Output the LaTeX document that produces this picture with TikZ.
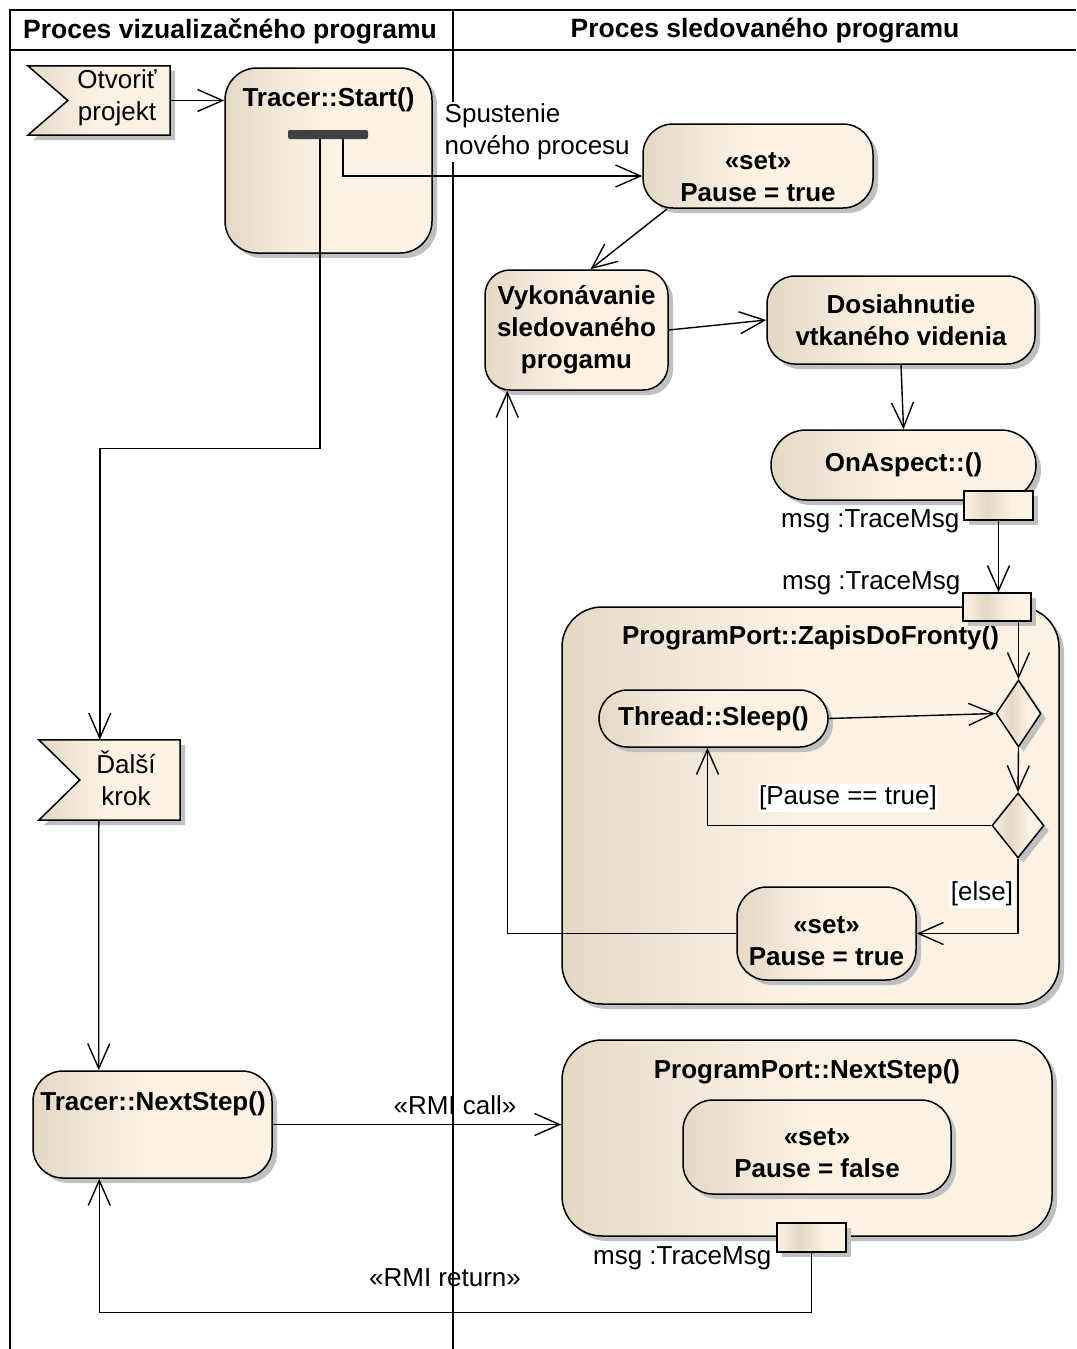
\documentclass[tikz,border=0pt]{standalone}
\usepackage{fontspec}
\setmainfont{Liberation Sans}
\usetikzlibrary{arrows.meta,shadows,calc,shapes.geometric}

\definecolor{tanL}{RGB}{228,216,197}
\definecolor{tanM}{RGB}{241,232,217}
\definecolor{tanR}{RGB}{251,242,228}
\definecolor{shadowgray}{RGB}{192,192,192}
\definecolor{barfill}{RGB}{64,64,64}

% fill of activities: darker band on the left, light elsewhere
\pgfdeclarehorizontalshading{tanfill}{100bp}{color(0bp)=(tanL); color(25bp)=(tanL); color(38bp)=(tanM); color(50bp)=(tanR); color(100bp)=(tanR)}
% fill of pins and decisions
\pgfdeclarehorizontalshading{pinfill}{100bp}{color(0bp)=(tanR); color(25bp)=(tanR); color(42bp)=(tanL); color(60bp)=(tanR); color(100bp)=(tanR)}

\tikzset{
  reg/.style={font=\fontsize{26}{32}\selectfont},
  bold/.style={font=\fontsize{26}{32}\selectfont\bfseries},
  head/.style={font=\fontsize{26.5}{32}\selectfont\bfseries},
  txt/.style={align=center,inner sep=0pt},
  shadowed/.style={drop shadow={shadow xshift=5pt,shadow yshift=-5pt,fill=shadowgray,opacity=1}},
  act/.style={draw=black,line width=1.5pt,rounded corners=#1,shading=tanfill,shadowed,inner sep=0pt,align=center,bold},
  act/.default=30pt,
  pinbox/.style={draw=black,line width=1.5pt,shading=pinfill,shadowed,inner sep=0pt},
  decision/.style={diamond,draw=black,line width=1.5pt,shading=pinfill,shadowed,inner sep=0pt},
  flag/.style={draw=black,line width=1.5pt,shading=tanfill,shadowed},
  lane/.style={draw=black,line width=1.6pt},
  arr/.style={draw=black,line width=1.4pt,-{Straight Barb[length=25pt,width=22pt]}},
  elbl/.style={reg,align=center,inner sep=1.5pt},
}

\begin{document}
\begin{tikzpicture}[x=1pt,y=-1pt]
\useasboundingbox (0,0) rectangle (1076,1349);

% swimlane frame
\draw[lane] (10,1349) -- (10,10) -- (1076,10);
\draw[lane] (10,50) -- (1076,50);
\draw[lane] (453,10) -- (453,1349);
\node[head] (hdrL) at (230,31) {Proces vizualizačného programu};
\node[head] (hdrR) at (765,31) {Proces sledovaného programu};

% ---------- left lane ----------
\node[minimum width=142pt,minimum height=69pt,inner sep=0pt] (otv) at (99,100.5) {};
\path[flag] (otv.north west) -- (otv.north east) -- (otv.south east) -- (otv.south west) -- ($(otv.west)+(40,0)$) -- cycle;
\node[txt,reg] (otvtxt) at (117,98) {Otvoriť\\projekt};

\node[act=32pt,minimum width=207pt,minimum height=185pt] (start) at (328.5,160.5) {};
\node[txt,bold] (starttxt) at (328.5,100) {Tracer::Start()};
\node[fill=barfill,rounded corners=2pt,minimum width=80pt,minimum height=9pt,inner sep=0pt] (fork) at (328,134.5) {};

\node[minimum width=141pt,minimum height=80pt,inner sep=0pt] (dal) at (109.5,780) {};
\path[flag] (dal.north west) -- (dal.north east) -- (dal.south east) -- (dal.south west) -- ($(dal.west)+(41,0)$) -- cycle;
\node[txt,reg] (daltxt) at (126,778) {Ďalší\\krok};

\node[act=30pt,minimum width=239pt,minimum height=107pt] (tns) at (152.5,1124.5) {};
\node[txt,bold] (tnstxt) at (153,1104) {Tracer::NextStep()};

% ---------- right lane ----------
\node[act=30pt,minimum width=230pt,minimum height=84pt] (set1) at (758,166) {};
\node[txt,bold] (set1txt) at (758,177.5) {«set»\\Pause = true};

\node[act=25pt,minimum width=183pt,minimum height=120pt] (vyk) at (576.5,330) {Vykonávanie\\sledovaného\\progamu};
\node[act=28pt,minimum width=268pt,minimum height=88pt] (dos) at (901,320) {Dosiahnutie\\vtkaného videnia};
\node[act=35pt,minimum width=265pt,minimum height=70pt] (ona) at (903.5,465) {OnAspect::()};
\node[pinbox,minimum width=69pt,minimum height=29pt] (pin1) at (998.5,505.5) {};
\node[elbl,anchor=east] (pin1lbl) at (961,521) {msg :TraceMsg};

% ProgramPort::ZapisDoFronty()
\node[act=40pt,minimum width=497pt,minimum height=397pt] (zap) at (810.5,805.5) {};
\node[txt,bold] (zaptxt) at (810.5,638) {ProgramPort::ZapisDoFronty()};
\node[pinbox,minimum width=68pt,minimum height=28pt] (pin2) at (997,607) {};
\node[elbl,anchor=east] (pin2lbl) at (962,583) {msg :TraceMsg};

\node[decision,minimum width=45pt,minimum height=67pt] (d1) at (1018.5,713.5) {};
\node[decision,minimum width=52pt,minimum height=65pt] (d2) at (1018,825.5) {};
\node[act=28.5pt,minimum width=229pt,minimum height=57pt] (sleep) at (713.5,718.5) {Thread::Sleep()};
\node[act=30pt,minimum width=179pt,minimum height=93pt] (set2) at (826.5,933.5) {};
\node[txt,bold] (set2txt) at (826.5,941) {«set»\\Pause = true};

% ProgramPort::NextStep()
\node[act=40pt,minimum width=490pt,minimum height=196pt] (pns) at (807,1138) {};
\node[txt,bold] (pnstxt) at (807,1072) {ProgramPort::NextStep()};
\node[act=30pt,minimum width=268pt,minimum height=94pt] (set3) at (817,1147) {};
\node[txt,bold] (set3txt) at (817,1153) {«set»\\Pause = false};
\node[pinbox,minimum width=69pt,minimum height=29pt] (pin3) at (811.5,1237.5) {};
\node[elbl,anchor=east] (pin3lbl) at (773,1258) {msg :TraceMsg};

% ---------- flows ----------
\draw[arr] (otv.east) -- (otv.east -| start.west);
\draw[arr] ($(fork.south)+(15,0)$) |- ($(set1.west)+(0,10)$);
\node[elbl,anchor=west,align=left,fill=white] (spust) at (443,132) {Spustenie\\nového procesu};
\draw[arr] ($(fork.south)+(-8,0)$) -- ++(0,309) -| ($(dal.north west)+(61,0)$);
\draw[arr] ($(set1.south west)+(25,0)$) -- ($(vyk.north)+(14,0)$);
\draw[arr] (vyk.east) -- (dos.west);
\draw[arr] (dos.south) -- (ona.north);
\draw[arr] (pin1.south) -- (pin1.south |- pin2.north);
\draw[arr] (d1.north |- pin2.south) -- (d1.north);
\draw[arr] (sleep.east) -- (d1.west);
\draw[arr] (d1.south) -- (d2.north);
\draw[arr] (d2.west) -| ($(sleep.south)+(-6,0)$);
\node[elbl,fill=white] (guard1) at (848,798) {[Pause == true]};
\draw[arr] (d2.south) |- (set2.east);
\node[elbl,fill=white] (guard2) at (982,894) {[else]};
\draw[arr] (set2.west) -| ($(vyk.south west)+(23,0)$);
\draw[arr] ($(dal.south west)+(60,0)$) -- ($(tns.north west)+(66.5,0)$);
\draw[arr] (tns.east) -- (tns.east -| pns.west);
\node[elbl] (rmicall) at (455,1105) {«RMI call»};
\draw[arr] (pin3.south) -- ++(0,60) -| ($(tns.south west)+(67,0)$);
\node[elbl] (rmiret) at (445,1278) {«RMI return»};
\end{tikzpicture}
\end{document}
